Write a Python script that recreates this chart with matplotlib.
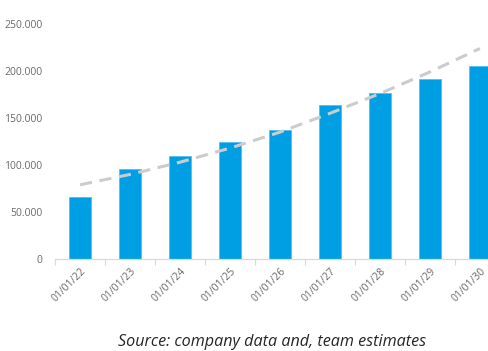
import numpy as np
import matplotlib.pyplot as plt
from matplotlib.ticker import FuncFormatter

# yearly values and trend estimate
dates = ["01/01/22", "01/01/23", "01/01/24", "01/01/25", "01/01/26",
         "01/01/27", "01/01/28", "01/01/29", "01/01/30"]
values = [66000, 96000, 110000, 124500, 137000, 164000, 177000, 191500, 205000]
trend = [79000, 90000, 103000, 118000, 135000, 155000, 176000, 199000, 224000]

plt.rcParams['font.family'] = ['Open Sans', 'DejaVu Sans']

fig = plt.figure(figsize=(4.89, 3.51), dpi=100)
ax = fig.add_axes([0.1125, 0.262, 0.92, 0.6695])

x = np.arange(len(dates))
ax.bar(x, values, width=0.44, color="#009fe3", edgecolor="#55bdef",
       linewidth=0.6, zorder=2)
ax.plot(x, trend, color="#cccccc", linestyle=(0, (4, 2.5)), linewidth=2.2,
        zorder=3)

ax.set_xlim(-0.5, len(dates) - 0.5)
ax.set_ylim(0, 250000)
ax.set_yticks(np.arange(0, 250001, 50000))
ax.yaxis.set_major_formatter(
    FuncFormatter(lambda v, p: f"{int(v):,}".replace(",", ".")))

ax.set_xticks(x)
ax.set_xticklabels(dates, rotation=45, ha="right", rotation_mode="anchor")
ax.set_xticks(np.arange(-0.5, len(dates)), minor=True)
ax.tick_params(axis="x", which="major", length=0, pad=5,
               labelsize=7.5, labelcolor="#6b6b6b")
ax.tick_params(axis="x", which="minor", length=4, color="#d9d9d9", width=0.8)
ax.tick_params(axis="y", length=0, pad=9, labelsize=7.5, labelcolor="#6b6b6b")

for s in ["left", "right", "top"]:
    ax.spines[s].set_visible(False)
ax.spines["bottom"].set_color("#d9d9d9")
ax.spines["bottom"].set_linewidth(0.9)

fig.text(0.556, 0.026, "Source: company data and, team estimates",
         ha="center", va="center", fontsize=11.6, style="italic",
         color="#262626")

fig.savefig("out.png", dpi=100)
